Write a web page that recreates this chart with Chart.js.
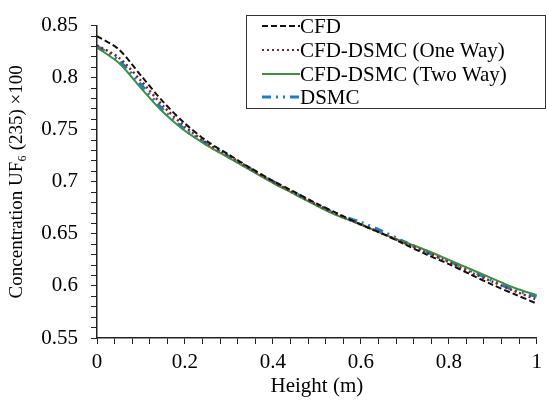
<!DOCTYPE html>
<html>
<head>
<meta charset="utf-8">
<script src="https://cdn.jsdelivr.net/npm/chart.js@4.4.1/dist/chart.umd.min.js"></script>
<style>
  html, body { margin: 0; padding: 0; background: #fff; }
  #wrap { width: 548px; height: 400px; }
</style>
</head>
<body>
<div id="wrap"><canvas id="myChart"></canvas></div>
<script>
// heights along the tube (m)
const heights = [0, 0.05, 0.1, 0.15, 0.2, 0.25, 0.3, 0.35, 0.4, 0.45, 0.5,
                 0.55, 0.6, 0.65, 0.7, 0.75, 0.8, 0.85, 0.9, 0.95, 1];

// concentration UF6 (235) x100
const cfd = [0.840, 0.827, 0.802, 0.777, 0.756, 0.739, 0.726, 0.713, 0.701, 0.690, 0.679,
             0.669, 0.659, 0.650, 0.640, 0.630, 0.621, 0.611, 0.601, 0.592, 0.583];
const oneWay = [0.831, 0.819, 0.797, 0.773, 0.753, 0.737, 0.725, 0.712, 0.700, 0.689, 0.678,
                0.668, 0.659, 0.650, 0.641, 0.632, 0.623, 0.613, 0.604, 0.595, 0.587];
const twoWay = [0.829, 0.814, 0.790, 0.767, 0.749, 0.735, 0.723, 0.711, 0.699, 0.688, 0.677,
                0.667, 0.659, 0.650, 0.642, 0.634, 0.625, 0.616, 0.607, 0.598, 0.591];
const dsmc = [0.830, 0.816, 0.793, 0.769, 0.750, 0.736, 0.724, 0.712, 0.700, 0.689, 0.678,
              0.668, 0.661, 0.652, 0.642, 0.633, 0.624, 0.615, 0.605, 0.596, 0.590];

const seriesNames = ['CFD', 'CFD-DSMC (One Way)', 'CFD-DSMC (Two Way)', 'DSMC'];
const xTickLabels = ['0', '0.2', '0.4', '0.6', '0.8', '1'];
const yTickLabels = ['0.55', '0.6', '0.65', '0.7', '0.75', '0.8', '0.85'];

const FONT = 'Liberation Serif';
Chart.defaults.font.family = FONT;
Chart.defaults.color = '#000';

function toPoints(ys) {
    return heights.map((h, i) => ({ x: h, y: ys[i] }));
}

//Draws the boxed legend in the top right corner, using each dataset's own line style
const boxLegend = {
    id: 'boxLegend',
    afterDraw(chart) {
        const ctx = chart.ctx;
        ctx.save();
        ctx.strokeStyle = '#333';
        ctx.lineWidth = 1;
        ctx.setLineDash([]);
        ctx.strokeRect(246.5, 15.5, 299, 93);
        const rowY = [26, 50, 74, 97];
        chart.data.datasets.forEach((ds, i) => {
            ctx.beginPath();
            ctx.strokeStyle = ds.borderColor;
            ctx.lineWidth = ds.legendWidth;
            ctx.setLineDash(ds.borderDash || []);
            ctx.moveTo(262, rowY[i]);
            ctx.lineTo(300, rowY[i]);
            ctx.stroke();
            ctx.setLineDash([]);
            ctx.fillStyle = '#000';
            ctx.font = '21px ' + FONT;
            ctx.textBaseline = 'middle';
            ctx.textAlign = 'left';
            ctx.fillText(ds.label, 300, rowY[i] + 1);
        });
        ctx.restore();
    }
};

const ctx = document.getElementById('myChart').getContext('2d');
const myChart = new Chart(ctx, {
    type: 'line',
    data: {
        datasets: [{
            label: seriesNames[0],
            data: toPoints(cfd),
            borderColor: '#111',
            borderWidth: 2,
            borderDash: [6, 3],
            legendWidth: 2
        }, {
            label: seriesNames[1],
            data: toPoints(oneWay),
            borderColor: '#8B1E1E',
            borderWidth: 2.5,
            borderDash: [2, 3],
            legendWidth: 2
        }, {
            label: seriesNames[2],
            data: toPoints(twoWay),
            borderColor: '#3F8F3F',
            borderWidth: 2,
            legendWidth: 2
        }, {
            label: seriesNames[3],
            data: toPoints(dsmc),
            borderColor: '#1B7DD0',
            borderWidth: 3.5,
            borderDash: [9, 5, 2, 5, 2, 5],
            legendWidth: 3
        }]
    },
    options: {
        responsive: true,
        maintainAspectRatio: false,
        animation: false,
        events: [],
        elements: {
            point: { radius: 0 },
            line: { tension: 0.3, fill: false }
        },
        layout: { padding: { top: 17, right: 9, left: 0, bottom: 0 } },
        plugins: {
            legend: { display: false },
            tooltip: { enabled: false }
        },
        scales: {
            x: {
                type: 'linear',
                min: 0,
                max: 1,
                afterFit: s => { s.height = 62; },
                border: { display: true, color: '#222', width: 1.5 },
                grid: { drawOnChartArea: false, drawTicks: true, tickLength: 6, color: '#222', tickColor: '#222' },
                ticks: {
                    stepSize: 0.04,
                    autoSkip: false,
                    maxRotation: 0,
                    padding: 6,
                    color: '#000',
                    font: { family: FONT, size: 21 },
                    callback: v => {
                        const k = v * 5;
                        if (Math.abs(k - Math.round(k)) < 1e-6) return xTickLabels[Math.round(k)];
                        return '';
                    }
                },
                title: {
                    display: true,
                    text: 'Height (m)',
                    color: '#000',
                    font: { family: FONT, size: 21 },
                    padding: { top: 0, bottom: 1 }
                }
            },
            y: {
                type: 'linear',
                min: 0.55,
                max: 0.85,
                afterFit: s => { s.width = 97; },
                border: { display: true, color: '#222', width: 1.5 },
                grid: { drawOnChartArea: false, drawTicks: true, tickLength: 6, color: '#222', tickColor: '#222' },
                ticks: {
                    stepSize: 0.01,
                    autoSkip: false,
                    padding: 13,
                    color: '#000',
                    font: { family: FONT, size: 21 },
                    callback: v => {
                        const k = (v - 0.55) * 20;
                        if (Math.abs(k - Math.round(k)) < 1e-6) return yTickLabels[Math.round(k)];
                        return '';
                    }
                },
                title: {
                    display: true,
                    text: 'Concentration UF\u2086 (235) \u00d7100',
                    color: '#000',
                    font: { family: FONT, size: 19 },
                    padding: { top: 6, bottom: 0 }
                }
            }
        }
    },
    plugins: [boxLegend]
});
</script>
</body>
</html>
